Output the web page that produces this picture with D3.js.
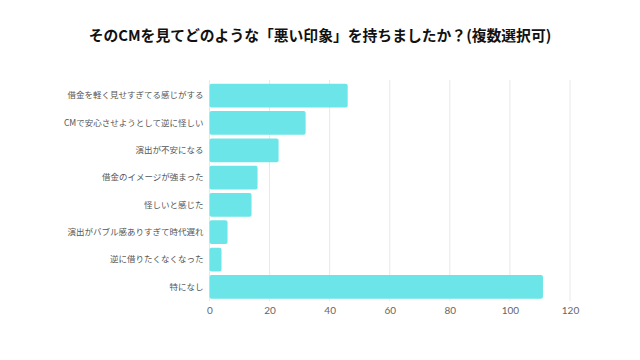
<!DOCTYPE html>
<html><head><meta charset="utf-8">
<script src="https://cdn.jsdelivr.net/npm/d3@7/dist/d3.min.js"></script>
<style>body{margin:0;background:#fff}svg{display:block}</style>
</head><body>
<script>
const title = "そのCMを見てどのような「悪い印象」を持ちましたか？(複数選択可)";
const categories = ["借金を軽く見せすぎてる感じがする","CMで安心させようとして逆に怪しい","演出が不安になる","借金のイメージが強まった","怪しいと感じた","演出がバブル感ありすぎて時代遅れ","逆に借りたくなくなった","特になし"];
const values = [46,32,23,16,14,6,4,111];
const xTicks = [0,20,40,60,80,100,120];

const W=640,H=360;
const svg=d3.select("body").append("svg").attr("width",W).attr("height",H);
const font="'Noto Sans CJK JP','Noto Sans',sans-serif";
svg.append("text").attr("x",320).attr("y",41).attr("text-anchor","middle")
  .attr("font-family",font).attr("font-weight","bold").attr("font-size",14.8).attr("fill","#111").text(title);

const x=d3.scaleLinear().domain([0,120]).range([209.5,570]);
const y=d3.scaleBand().domain(categories).range([82,300.5]).paddingInner(0.13).paddingOuter(0.065);

svg.append("g").selectAll("line").data(xTicks).join("line")
  .attr("x1",d=>x(d)).attr("x2",d=>x(d)).attr("y1",80).attr("y2",301)
  .attr("stroke","#e8e8e8").attr("stroke-width",1);

svg.append("g").selectAll("rect").data(values).join("rect")
  .attr("x",x(0)).attr("y",(d,i)=>y(categories[i]))
  .attr("width",d=>x(d)-x(0)).attr("height",y.bandwidth())
  .attr("rx",2).attr("fill","#6ce5e8");

const xa=svg.append("g").attr("transform","translate(0,301)")
  .call(d3.axisBottom(x).tickValues(xTicks).tickSize(0).tickPadding(6));
xa.select(".domain").remove();
xa.selectAll("text").attr("font-family","Lato,'Noto Sans',sans-serif").attr("font-size",10).attr("fill","#666");

const ya=svg.append("g").attr("transform",`translate(${x(0)-6},0)`)
  .call(d3.axisLeft(y).tickSize(0).tickPadding(0));
ya.select(".domain").remove();
ya.selectAll("text").attr("font-family",font).attr("font-size",8.5).attr("fill","#555");
</script>
</body></html>
